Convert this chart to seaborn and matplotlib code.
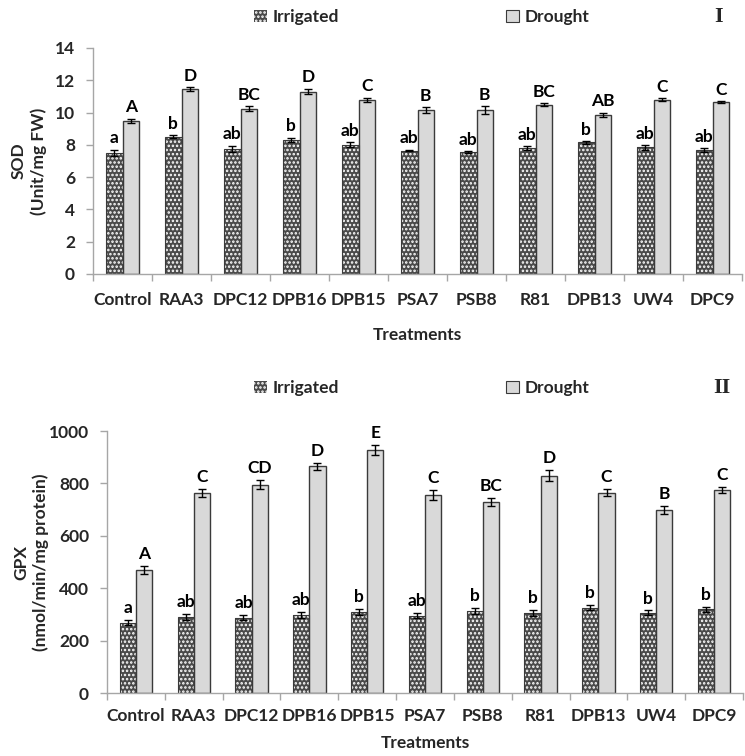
import matplotlib
matplotlib.use("Agg")
import matplotlib.pyplot as plt
import seaborn as sns
import pandas as pd
import numpy as np
from matplotlib.patches import Patch

treatments = ["Control", "RAA3", "DPC12", "DPB16", "DPB15", "PSA7", "PSB8", "R81", "DPB13", "UW4", "DPC9"]
conditions = ["Irrigated", "Drought"]

sod_irr = [7.5, 8.5, 7.75, 8.3, 8.0, 7.65, 7.55, 7.8, 8.15, 7.85, 7.7]
sod_irr_err = [0.2, 0.1, 0.2, 0.15, 0.15, 0.05, 0.05, 0.1, 0.08, 0.15, 0.12]
sod_dr = [9.5, 11.45, 10.25, 11.3, 10.8, 10.15, 10.15, 10.5, 9.85, 10.8, 10.65]
sod_dr_err = [0.12, 0.12, 0.15, 0.18, 0.12, 0.2, 0.25, 0.08, 0.15, 0.08, 0.08]
sod_irr_let = ["a", "b", "ab", "b", "ab", "ab", "ab", "ab", "b", "ab", "ab"]
sod_dr_let = ["A", "D", "BC", "D", "C", "B", "B", "BC", "AB", "C", "C"]

gpx_irr = [268, 290, 288, 298, 310, 295, 313, 305, 326, 307, 319]
gpx_irr_err = [10, 10, 10, 10, 12, 10, 12, 12, 10, 8, 10]
gpx_dr = [470, 765, 795, 865, 928, 755, 730, 830, 765, 700, 775]
gpx_dr_err = [15, 15, 18, 12, 20, 20, 15, 20, 12, 15, 12]
gpx_irr_let = ["a", "ab", "ab", "ab", "b", "ab", "b", "b", "b", "b", "b"]
gpx_dr_let = ["A", "C", "CD", "D", "E", "C", "BC", "D", "C", "B", "C"]

sns.set_theme(style="white")
plt.rcParams["font.family"] = ["Lato", "DejaVu Sans"]
plt.rcParams["font.weight"] = "bold"
plt.rcParams["axes.labelweight"] = "bold"
plt.rcParams["hatch.linewidth"] = 1.2

IRR_FACE = "#4a4a4a"
DR_FACE = "#d9d9d9"
EDGE = "#3a3a3a"
AX_GREY = "#a6a6a6"

W, H = 745, 756
fig = plt.figure(figsize=(W / 100, H / 100), dpi=100)
ax1 = fig.add_axes([93 / W, 1 - 274 / H, (742 - 93) / W, (274 - 48) / H])
ax2 = fig.add_axes([107 / W, 1 - 693 / H, (743 - 107) / W, (693 - 431) / H])


def panel(ax, irr, irr_err, dr, dr_err, irr_let, dr_let, ymax, ystep, ylabel, tag,
          legend_y, off, xpad, xlabpad, ylab_x, tag_x):
    df = pd.DataFrame({
        "Treatment": treatments * 2,
        "Condition": [conditions[0]] * len(treatments) + [conditions[1]] * len(treatments),
        "Value": irr + dr,
    })
    sns.barplot(data=df, x="Treatment", y="Value", hue="Condition", order=treatments,
                hue_order=conditions, width=0.56, errorbar=None, ax=ax, legend=False,
                palette=[IRR_FACE, DR_FACE])
    n = len(treatments)
    patches = list(ax.patches)[: 2 * n]
    irr_p = patches[:n]
    dr_p = patches[n:]
    for p in irr_p:
        p.set_facecolor(IRR_FACE)
        p.set_edgecolor("white")
        p.set_hatch("....")
        p.set_linewidth(0)
    for p in dr_p:
        p.set_facecolor(DR_FACE)
        p.set_edgecolor(EDGE)
        p.set_linewidth(1.0)
    for p in irr_p:
        ax.add_patch(plt.Rectangle((p.get_x(), p.get_y()), p.get_width(), p.get_height(),
                                   fill=False, edgecolor=EDGE, linewidth=0.8))
    for plist, vals, errs, lets in [(irr_p, irr, irr_err, irr_let), (dr_p, dr, dr_err, dr_let)]:
        xs = [p.get_x() + p.get_width() / 2 for p in plist]
        ax.errorbar(xs, vals, yerr=errs, fmt="none", ecolor="black", elinewidth=1.0,
                    capsize=3, capthick=1.0)
        for x, v, e, l in zip(xs, vals, errs, lets):
            ax.text(x, v + e + off, l, ha="center", va="bottom", fontsize=12.5,
                    fontweight="bold", color="black")
    ax.set_xlim(-0.5, n - 0.5)
    ax.set_ylim(0, ymax)
    ax.set_yticks(np.arange(0, ymax + 1e-9, ystep))
    ax.set_xticks(range(n))
    ax.set_xticklabels(treatments, fontsize=12.5, fontweight="bold")
    ax.set_xticks(np.arange(-0.5, n, 1), minor=True)
    ax.tick_params(axis="x", which="major", length=0, pad=xpad)
    ax.tick_params(axis="x", which="minor", length=5, color=AX_GREY, width=1,
                   direction="out", bottom=True)
    ax.tick_params(axis="y", length=5, color=AX_GREY, width=1, direction="out",
                   left=True, labelsize=12.5, pad=8)
    for lab in ax.get_yticklabels():
        lab.set_fontweight("bold")
    for s in ["top", "right"]:
        ax.spines[s].set_visible(False)
    for s in ["left", "bottom"]:
        ax.spines[s].set_color(AX_GREY)
        ax.spines[s].set_linewidth(1.0)
    ax.set_xlabel("Treatments", fontsize=12.5, fontweight="bold", labelpad=xlabpad)
    ax.set_ylabel(ylabel, fontsize=12.5, fontweight="bold", linespacing=1.25)
    ax.yaxis.set_label_coords(ylab_x, 0.5)
    handles = [Patch(facecolor=IRR_FACE, edgecolor="white", hatch="....", linewidth=0),
               Patch(facecolor=DR_FACE, edgecolor=EDGE, linewidth=0.8)]
    fig.legend(handles, conditions, loc="center", bbox_to_anchor=(0.566, legend_y), ncol=2,
               frameon=False, columnspacing=9.6, handlelength=0.75,
               handleheight=0.75, handletextpad=0.35, prop={"weight": "bold", "size": 12.5})
    fig.text(tag_x, legend_y, tag, fontsize=16, fontweight="bold", ha="center", va="center",
             family=["Liberation Serif", "DejaVu Serif"])


panel(ax1, sod_irr, sod_irr_err, sod_dr, sod_dr_err, sod_irr_let, sod_dr_let,
      14, 2, "SOD\n(Unit/mg FW)", "I", 1 - 17 / H, 0.2, 13, 14,
      (47 - 93) / (742 - 93), 719 / W)
panel(ax2, gpx_irr, gpx_irr_err, gpx_dr, gpx_dr_err, gpx_irr_let, gpx_dr_let,
      1000, 200, "GPX\n(nmol/min/mg protein)", "II", 1 - 388 / H, 15, 11, 8,
      (49 - 107) / (743 - 107), 722 / W)

fig.savefig("out.png", dpi=100)
